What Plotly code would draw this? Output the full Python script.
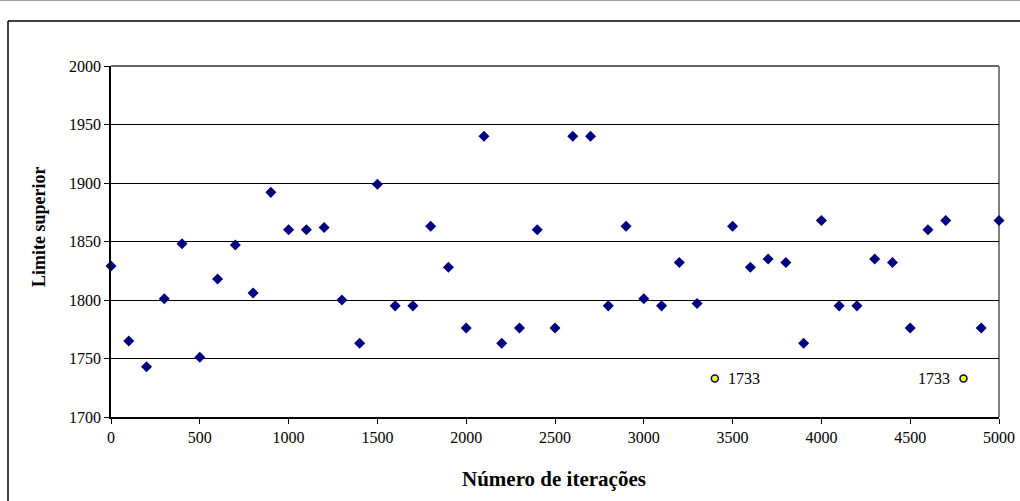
import plotly.graph_objects as go

# Data
iter_blue = [0, 100, 200, 300, 400, 500, 600, 700, 800, 900, 1000, 1100, 1200, 1300, 1400,
             1500, 1600, 1700, 1800, 1900, 2000, 2100, 2200, 2300, 2400, 2500, 2600, 2700,
             2800, 2900, 3000, 3100, 3200, 3300, 3500, 3600, 3700, 3800, 3900, 4000, 4100,
             4200, 4300, 4400, 4500, 4600, 4700, 4900, 5000]
limite_blue = [1829, 1765, 1743, 1801, 1848, 1751, 1818, 1847, 1806, 1892, 1860, 1860, 1862,
               1800, 1763, 1899, 1795, 1795, 1863, 1828, 1776, 1940, 1763, 1776, 1860, 1776,
               1940, 1940, 1795, 1863, 1801, 1795, 1832, 1797, 1863, 1828, 1835, 1832, 1763,
               1868, 1795, 1795, 1835, 1832, 1776, 1860, 1868, 1776, 1868]
iter_opt = [3400, 4800]
limite_opt = [1733, 1733]
opt_label_side = ["right", "left"]

x_ticks = [0, 500, 1000, 1500, 2000, 2500, 3000, 3500, 4000, 4500, 5000]
y_ticks = [1700, 1750, 1800, 1850, 1900, 1950, 2000]

FONT = "Liberation Serif"

fig = go.Figure()
fig.add_trace(go.Scatter(
    x=iter_blue, y=limite_blue, mode="markers",
    marker=dict(symbol="diamond", size=8.5, color="#000080", line=dict(width=0)),
    cliponaxis=False, showlegend=False, hoverinfo="skip"))
fig.add_trace(go.Scatter(
    x=iter_opt, y=limite_opt, mode="markers",
    marker=dict(symbol="circle", size=7, color="#FFFF00", line=dict(width=1.5, color="#000080")),
    cliponaxis=False, showlegend=False, hoverinfo="skip"))

for xv, yv, side in zip(iter_opt, limite_opt, opt_label_side):
    fig.add_annotation(
        x=xv, y=yv, text=str(yv), showarrow=False,
        xanchor="left" if side == "right" else "right",
        xshift=11 if side == "right" else -11,
        font=dict(family=FONT, size=16, color="black"))

fig.update_layout(
    width=1020, height=501, autosize=False,
    margin=dict(l=111, r=21, t=66, b=84, autoexpand=False),
    plot_bgcolor="white", paper_bgcolor="white",
    font=dict(family=FONT, size=16, color="black"),
    xaxis=dict(range=[0, 5000], tickvals=x_ticks, showgrid=False, zeroline=False,
               showline=True, linecolor="black", linewidth=1.5, automargin=False,
               ticks="outside", ticklen=5, tickcolor="black",
               tickfont=dict(family=FONT, size=16, color="black")),
    yaxis=dict(range=[1700, 2000], tickvals=y_ticks, showgrid=True, gridcolor="black",
               gridwidth=1, zeroline=False, automargin=False,
               showline=True, linecolor="black", linewidth=1.5,
               ticks="outside", ticklen=5, tickcolor="black",
               tickfont=dict(family=FONT, size=16, color="black")),
)

# Axis titles
fig.add_annotation(xref="paper", yref="paper", x=(39 - 111) / 888, y=(417 - 227) / 351,
                   text="<b>Limite superior</b>", textangle=-90, showarrow=False,
                   xanchor="center", yanchor="middle",
                   font=dict(family=FONT, size=18, color="black"))
fig.add_annotation(xref="paper", yref="paper", x=(554 - 111) / 888, y=(417 - 479) / 351,
                   text="<b>Número de iterações</b>", showarrow=False,
                   xanchor="center", yanchor="middle",
                   font=dict(family=FONT, size=21, color="black"))

# Plot area top and right edges
fig.add_shape(type="line", xref="paper", yref="paper", x0=0, x1=1, y0=1, y1=1,
              line=dict(color="#333333", width=1.5), layer="below")
fig.add_shape(type="line", xref="paper", yref="paper", x0=1, x1=1, y0=0, y1=1,
              line=dict(color="#808080", width=2), layer="below")

# Outer chart border
fig.add_shape(type="line", xref="paper", yref="paper",
              x0=(8 - 111) / 888, x1=(1030 - 111) / 888, y0=(417 - 21) / 351, y1=(417 - 21) / 351,
              line=dict(color="black", width=1.5))
fig.add_shape(type="line", xref="paper", yref="paper",
              x0=(8 - 111) / 888, x1=(8 - 111) / 888, y0=(417 - 21) / 351, y1=(417 - 510) / 351,
              line=dict(color="black", width=1.5))
fig.add_shape(type="line", xref="paper", yref="paper",
              x0=(0 - 111) / 888, x1=(1030 - 111) / 888, y0=(417 - 0.5) / 351, y1=(417 - 0.5) / 351,
              line=dict(color="#a0a0a0", width=1))

post = (
    "document.body.style.margin='0';document.body.style.overflow='hidden';"
    "var gd=document.getElementById('{plot_id}');"
    "function fixFonts(){Plotly.relayout(gd,{'xaxis.tickfont.size':16.01,'yaxis.tickfont.size':16.01})"
    ".then(function(){return Plotly.relayout(gd,{'xaxis.tickfont.size':16,'yaxis.tickfont.size':16});});}"
    "fixFonts();setTimeout(fixFonts,30);"
)
fig.write_html("out.html", config={"displayModeBar": False}, post_script=post)
